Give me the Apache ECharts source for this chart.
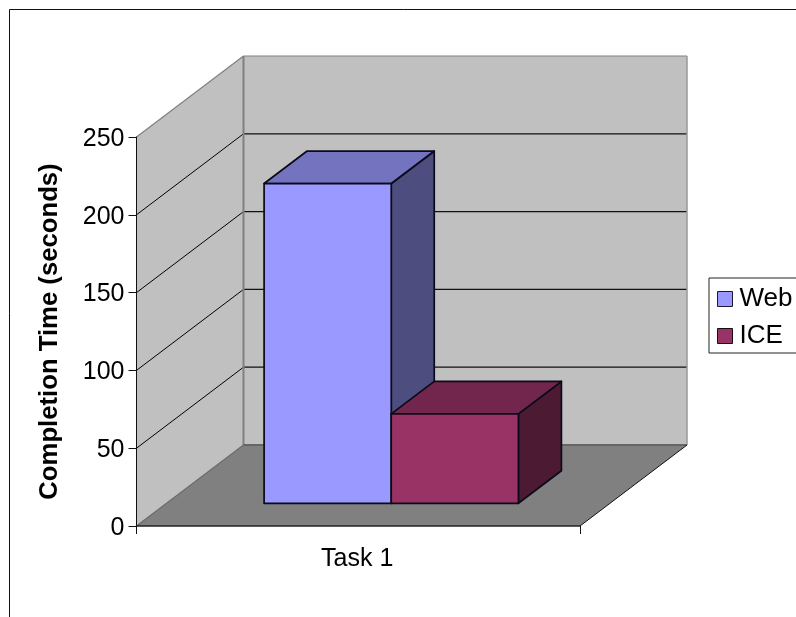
<!DOCTYPE html>
<html>
<head>
<meta charset="utf-8">
<style>html,body{margin:0;padding:0;background:#fff}#chart{width:796px;height:617px}</style>
<script src="https://cdn.jsdelivr.net/npm/echarts@6/dist/echarts.min.js"></script>
</head>
<body>
<div id="chart"></div>
<script>
// Values plotted
const categories = ['Task 1'];
const webValues = [205.5];
const iceValues = [57.5];
const tickValues = [0, 50, 100, 150, 200, 250];

// Pseudo-3D box geometry, in pixels
const wallDepth = { x: 107, y: 81 };
const barDepth = { x: 43, y: 32.5 };
const barInset = { x: 33, y: 22.7 };
const barWidthRatio = 0.2867;

const FONT = '"Liberation Sans", Arial, sans-serif';

function poly(points, fill, stroke, lineWidth) {
  return {
    type: 'polygon',
    shape: { points: points },
    style: { fill: fill, stroke: stroke || null, lineWidth: lineWidth || 0, lineJoin: 'round' }
  };
}
function seg(a, b, stroke, lineWidth) {
  return {
    type: 'line',
    shape: { x1: a[0], y1: a[1], x2: b[0], y2: b[1] },
    style: { stroke: stroke, lineWidth: lineWidth }
  };
}

// Floor, left wall and back wall, plus the gridlines wrapping across both walls
function renderWalls(params, api) {
  const top = api.coord([0, 250])[1];
  const bottom = api.coord([0, 0])[1];
  const band = api.size([1, 0])[0];
  const left = api.coord([0, 0])[0] - band / 2;
  const right = left + band;
  const d = wallDepth;
  const kids = [
    poly([[left, bottom], [left + d.x, bottom - d.y], [right + d.x, bottom - d.y], [right, bottom]], '#808080'),
    poly([[left, top], [left + d.x, top - d.y], [left + d.x, bottom - d.y], [left, bottom]], '#c0c0c0'),
    poly([[left + d.x, top - d.y], [right + d.x, top - d.y], [right + d.x, bottom - d.y], [left + d.x, bottom - d.y]], '#c0c0c0')
  ];
  tickValues.slice(1, -1).forEach(function (v) {
    const y = api.coord([0, v])[1];
    kids.push(seg([left, y], [left + d.x, y - d.y], '#000', 1));
    kids.push(seg([left + d.x, y - d.y], [right + d.x, y - d.y], '#111', 1.2));
  });
  kids.push(seg([left, top], [left + d.x, top - d.y], '#808080', 1.2));
  kids.push(seg([left + d.x, top - d.y], [right + d.x, top - d.y], '#808080', 1));
  kids.push(seg([left + d.x, top - d.y], [left + d.x, bottom - d.y], '#808080', 2));
  kids.push(seg([right + d.x, top - d.y], [right + d.x, bottom - d.y], '#999', 1.5));
  kids.push(seg([left, bottom], [left + d.x, bottom - d.y], '#6a6a6a', 1.2));
  kids.push(seg([left + d.x, bottom - d.y], [right + d.x, bottom - d.y], '#666', 2));
  kids.push(seg([right, bottom], [right + d.x, bottom - d.y], '#111', 1));
  return { type: 'group', children: kids };
}

// One extruded bar: slot 0 sits left of the band centre, slot 1 right of it
function boxRenderer(slot, front, topFace, sideFace) {
  return function (params, api) {
    const zero = api.coord([api.value(0), 0]);
    const head = api.coord([api.value(0), api.value(1)]);
    const band = api.size([1, 0])[0];
    const w = band * barWidthRatio;
    const x0 = zero[0] + barInset.x + (slot - 1) * w;
    const x1 = x0 + w;
    const y0 = zero[1] - barInset.y;
    const y1 = head[1] - barInset.y;
    const d = barDepth;
    const edge = '#0a0a18';
    return {
      type: 'group',
      children: [
        poly([[x1, y1], [x1 + d.x, y1 - d.y], [x1 + d.x, y0 - d.y], [x1, y0]], sideFace, edge, 1.7),
        poly([[x0, y1], [x0 + d.x, y1 - d.y], [x1 + d.x, y1 - d.y], [x1, y1]], topFace, edge, 1.7),
        poly([[x0, y1], [x1, y1], [x1, y0], [x0, y0]], front, edge, 1.7)
      ]
    };
  };
}

const chart = echarts.init(document.getElementById('chart'), null, { renderer: 'canvas' });
chart.setOption({
  animation: false,
  backgroundColor: '#fff',
  textStyle: { fontFamily: FONT },
  // Outer frame runs past the right and bottom of the page
  graphic: [{
    type: 'rect',
    z: -1,
    shape: { x: 9.5, y: 9.5, width: 900, height: 800 },
    style: { fill: 'none', stroke: '#111', lineWidth: 1 }
  }],
  grid: { left: 136.5, right: 216, top: 137, bottom: 91 },
  legend: {
    orient: 'vertical',
    left: 709,
    top: 278,
    padding: [7, 40, 3, 8],
    itemGap: 9,
    itemWidth: 15,
    itemHeight: 15,
    borderColor: '#222',
    borderWidth: 1,
    backgroundColor: '#fff',
    textStyle: { fontFamily: FONT, fontSize: 26, color: '#000', padding: [1, 0, 0, 2], lineHeight: 27 },
    data: [
      { name: 'Web', icon: 'rect', itemStyle: { color: '#9999ff', borderColor: '#1a1a33', borderWidth: 1 } },
      { name: 'ICE', icon: 'rect', itemStyle: { color: '#993366', borderColor: '#1a0a12', borderWidth: 1 } }
    ]
  },
  xAxis: {
    type: 'category',
    data: categories,
    z: 10,
    axisLine: { lineStyle: { color: '#222', width: 1.5 } },
    axisTick: { show: true, length: 8, lineStyle: { color: '#111' }, alignWithLabel: false },
    axisLabel: { fontFamily: FONT, fontSize: 25, color: '#000', margin: 21, padding: [0, 2, 0, 0] }
  },
  yAxis: {
    type: 'value',
    min: 0,
    max: 250,
    interval: 50,
    z: 10,
    name: 'Completion Time (seconds)',
    nameLocation: 'middle',
    nameRotate: 90,
    nameGap: 74,
    nameTextStyle: { fontFamily: FONT, fontSize: 25.7, fontWeight: 'bold', color: '#000' },
    axisLine: { show: true, lineStyle: { color: '#111', width: 1 } },
    axisTick: { show: true, length: 8, lineStyle: { color: '#111' } },
    // Top-anchored with a short line box: nudges the digits down onto their ticks
    axisLabel: { fontFamily: FONT, fontSize: 25, color: '#000', margin: 12, verticalAlign: 'top', lineHeight: 4 },
    splitLine: { show: false }
  },
  series: [
    {
      type: 'custom',
      name: 'walls',
      z: 1,
      silent: true,
      clip: false,
      renderItem: renderWalls,
      encode: { x: 0, y: 1 },
      data: [[0, 250]]
    },
    {
      type: 'custom',
      name: 'Web',
      z: 3,
      clip: false,
      itemStyle: { color: '#9999ff' },
      renderItem: boxRenderer(0, '#9999ff', '#7373bf', '#4d4d80'),
      encode: { x: 0, y: 1 },
      data: webValues.map(function (v, i) { return [i, v]; })
    },
    {
      type: 'custom',
      name: 'ICE',
      z: 4,
      clip: false,
      itemStyle: { color: '#993366' },
      renderItem: boxRenderer(1, '#993366', '#73264d', '#4d1a33'),
      encode: { x: 0, y: 1 },
      data: iceValues.map(function (v, i) { return [i, v]; })
    }
  ]
});
</script>
</body>
</html>
